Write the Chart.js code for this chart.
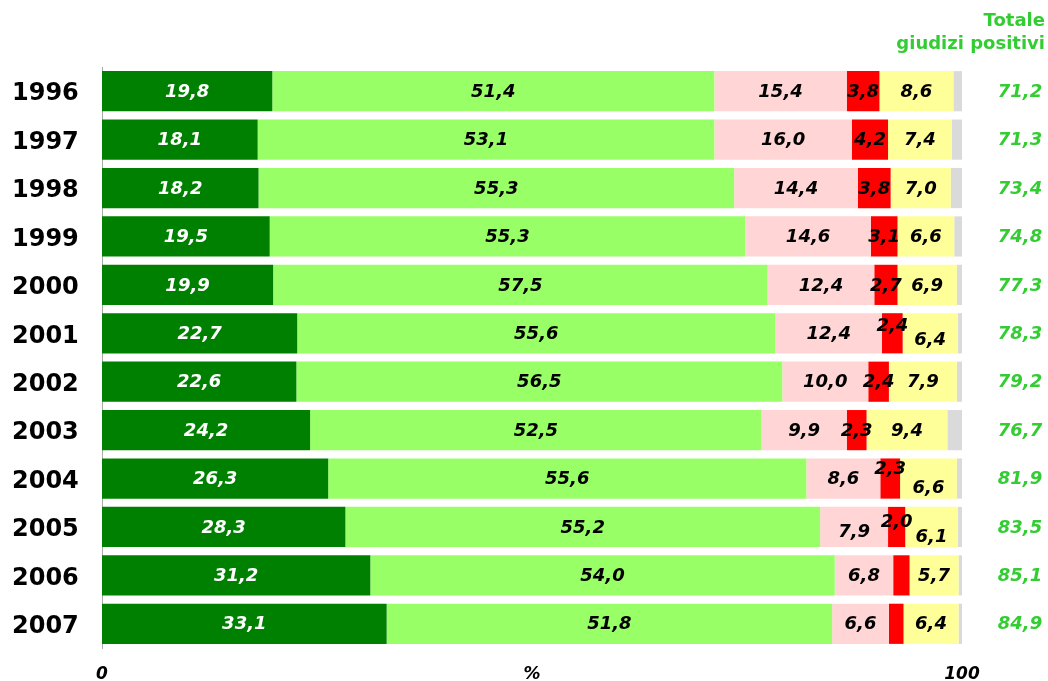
<!DOCTYPE html>
<html>
<head>
<meta charset="utf-8">
<script src="https://cdn.jsdelivr.net/npm/chart.js@4"></script>
<style>
  html, body { margin: 0; padding: 0; background: #fff; }
  #wrap { width: 1048px; height: 681px; position: relative; }
</style>
</head>
<body>
<div id="wrap"><canvas id="chart" width="1048" height="681"></canvas></div>
<script>
// data
const years = ['1996','1997','1998','1999','2000','2001','2002','2003','2004','2005','2006','2007'];
const moltoPos  = [19.8, 18.1, 18.2, 19.5, 19.9, 22.7, 22.6, 24.2, 26.3, 28.3, 31.2, 33.1];
const abbPos    = [51.4, 53.1, 55.3, 55.3, 57.5, 55.6, 56.5, 52.5, 55.6, 55.2, 54.0, 51.8];
const abbNeg    = [15.4, 16.0, 14.4, 14.6, 12.4, 12.4, 10.0,  9.9,  8.6,  7.9,  6.8,  6.6];
const moltoNeg  = [ 3.8,  4.2,  3.8,  3.1,  2.7,  2.4,  2.4,  2.3,  2.3,  2.0,  1.9,  1.7];
const nonSa     = [ 8.6,  7.4,  7.0,  6.6,  6.9,  6.4,  7.9,  9.4,  6.6,  6.1,  5.7,  6.4];
const nonRisp   = [ 1.0,  1.2,  1.3,  0.9,  0.6,  0.5,  0.6,  1.7,  0.6,  0.5,  0.4,  0.4];
const totalePos = ['71,2','71,3','73,4','74,8','77,3','78,3','79,2','76,7','81,9','83,5','85,1','84,9'];
const xTickLabels = { 0: '0', 50: '%', 100: '100' };

// which labels are printed, and vertical nudges (px) where the original overlaps
const showRed = [true,true,true,true,true,true,true,true,true,true,false,false];
const redShift    = [0,0,0,0,0,-8,0,0,-10,-6,0,0];
const yellowShift = [0,0,0,0,0,6,0,0,9,9,0,0];
const pinkShift   = [0,0,0,0,0,0,0,0,0,4,0,0];

const fmt = v => v.toFixed(1).replace('.', ',');
const FONT = '"DejaVu Sans", Verdana, sans-serif';

const segLabels = {
  id: 'segLabels',
  afterDatasetsDraw(chart) {
    const ctx = chart.ctx;
    ctx.save();
    ctx.textAlign = 'center';
    ctx.textBaseline = 'middle';
    ctx.font = 'italic bold 18px ' + FONT;
    chart.data.datasets.forEach((ds, di) => {
      if (di > 4) return;
      const meta = chart.getDatasetMeta(di);
      meta.data.forEach((bar, i) => {
        if (di === 3 && !showRed[i]) return;
        let dy = 0;
        if (di === 2) dy = pinkShift[i];
        if (di === 3) dy = redShift[i];
        if (di === 4) dy = yellowShift[i];
        const cx = (bar.x + bar.base) / 2;
        ctx.fillStyle = di === 0 ? '#ffffff' : '#000000';
        ctx.fillText(fmt(ds.data[i]), cx, bar.y + dy + 1);
      });
    });
    // totals on the right
    ctx.fillStyle = '#33cc33';
    const meta0 = chart.getDatasetMeta(0);
    meta0.data.forEach((bar, i) => {
      ctx.fillText(totalePos[i], 1020, bar.y + 1);
    });
    ctx.font = 'bold 18px ' + FONT;
    ctx.textAlign = 'right';
    ctx.fillText('Totale', 1045, 21);
    ctx.fillText('giudizi positivi', 1045, 44);
    ctx.restore();
  }
};

new Chart(document.getElementById('chart'), {
  type: 'bar',
  data: {
    labels: years,
    datasets: [
      { label: 'Molto positivo', data: moltoPos, backgroundColor: '#008000' },
      { label: 'Abbastanza positivo', data: abbPos, backgroundColor: '#99ff66' },
      { label: 'Abbastanza negativo', data: abbNeg, backgroundColor: '#ffd5d5' },
      { label: 'Molto negativo', data: moltoNeg, backgroundColor: '#ff0000' },
      { label: 'Non sa', data: nonSa, backgroundColor: '#ffff99' },
      { label: 'Non risponde', data: nonRisp, backgroundColor: '#dadada' }
    ]
  },
  options: {
    indexAxis: 'y',
    responsive: false,
    animation: false,
    layout: { padding: { top: 67, right: 86, bottom: 0, left: 12 } },
    datasets: { bar: { barPercentage: 0.83, categoryPercentage: 1.0, borderWidth: 0 } },
    plugins: { legend: { display: false }, tooltip: { enabled: false } },
    scales: {
      x: {
        stacked: true, min: 0, max: 100,
        grid: { display: false },
        border: { display: false },
        afterFit: s => { s.height = 33; },
        ticks: {
          stepSize: 50, color: '#000', padding: 8,
          font: { family: FONT, size: 17, style: 'italic', weight: 'bold' },
          maxRotation: 0,
          callback: v => xTickLabels[v]
        }
      },
      y: {
        stacked: true,
        grid: { display: false, drawTicks: false },
        border: { display: true, color: '#aaaaaa', width: 1 },
        afterFit: s => { s.width = 90; },
        ticks: {
          color: '#000', padding: 0, crossAlign: 'far', labelOffset: 3,
          font: { family: FONT, size: 24, weight: 'bold' }
        }
      }
    }
  },
  plugins: [segLabels]
});
</script>
</body>
</html>
